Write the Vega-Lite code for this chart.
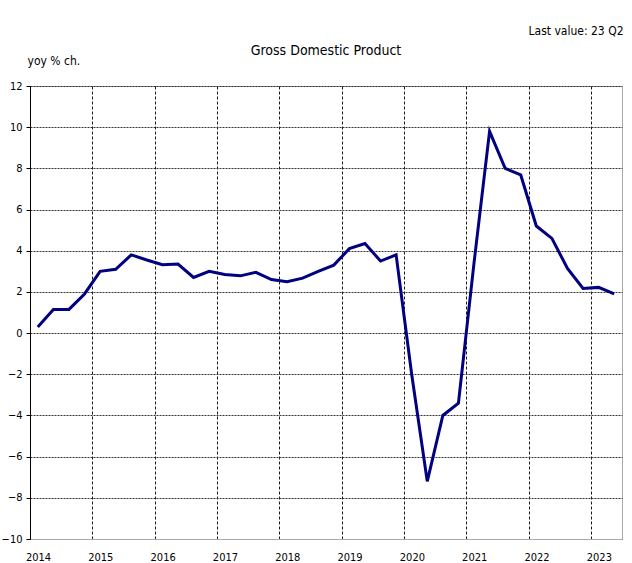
{
  "$schema": "https://vega.github.io/schema/vega-lite/v6.json",
  "width": 592,
  "height": 453,
  "autosize": {"type": "none"},
  "padding": {"left": 30, "top": 86, "right": 10, "bottom": 24},
  "background": "white",
  "config": {
    "font": "DejaVu Sans Condensed, DejaVu Sans, sans-serif",
    "view": {"stroke": "#aaaaaa", "strokeWidth": 1}
  },
  "title": {
    "text": "Gross Domestic Product",
    "anchor": "middle",
    "fontSize": 14,
    "fontWeight": "normal",
    "color": "#000000",
    "offset": 0,
    "dy": 34
  },
  "data": {
    "values": [
      {"t": 2014.125, "v": 0.3},
      {"t": 2014.375, "v": 1.15},
      {"t": 2014.625, "v": 1.15},
      {"t": 2014.875, "v": 1.9},
      {"t": 2015.125, "v": 3.0},
      {"t": 2015.375, "v": 3.1},
      {"t": 2015.625, "v": 3.8},
      {"t": 2015.875, "v": 3.55},
      {"t": 2016.125, "v": 3.32},
      {"t": 2016.375, "v": 3.35},
      {"t": 2016.625, "v": 2.7},
      {"t": 2016.875, "v": 3.0},
      {"t": 2017.125, "v": 2.85},
      {"t": 2017.375, "v": 2.78},
      {"t": 2017.625, "v": 2.95},
      {"t": 2017.875, "v": 2.6},
      {"t": 2018.125, "v": 2.5},
      {"t": 2018.375, "v": 2.67},
      {"t": 2018.625, "v": 3.0},
      {"t": 2018.875, "v": 3.3},
      {"t": 2019.125, "v": 4.1},
      {"t": 2019.375, "v": 4.35},
      {"t": 2019.625, "v": 3.5},
      {"t": 2019.875, "v": 3.8},
      {"t": 2020.125, "v": -2.0},
      {"t": 2020.375, "v": -7.2},
      {"t": 2020.625, "v": -4.0},
      {"t": 2020.875, "v": -3.4},
      {"t": 2021.125, "v": 3.4},
      {"t": 2021.375, "v": 9.8},
      {"t": 2021.625, "v": 8.0},
      {"t": 2021.875, "v": 7.68},
      {"t": 2022.125, "v": 5.2},
      {"t": 2022.375, "v": 4.6},
      {"t": 2022.625, "v": 3.14},
      {"t": 2022.875, "v": 2.17},
      {"t": 2023.125, "v": 2.22},
      {"t": 2023.375, "v": 1.9}
    ]
  },
  "mark": {"type": "line", "color": "#000080", "strokeWidth": 3, "clip": true},
  "encoding": {
    "x": {
      "field": "t",
      "type": "quantitative",
      "scale": {"domain": [2014, 2023.5], "nice": false, "zero": false},
      "axis": {
        "values": [2014, 2015, 2016, 2017, 2018, 2019, 2020, 2021, 2022, 2023],
        "format": "d",
        "title": "Last value: 23 Q2",
        "titleFontSize": 12,
        "titleFontWeight": "normal",
        "titleColor": "#000000",
        "titleAlign": "right",
        "titleBaseline": "middle",
        "titleAnchor": "end",
        "titleX": 593,
        "titleY": -509,
        "ticks": false,
        "domainColor": "#aaaaaa",
        "labelFontSize": 11,
        "labelColor": "#000000",
        "labelOffset": 8,
        "labelPadding": 12,
        "labelFlush": false,
        "grid": true,
        "gridColor": "#000000",
        "gridDash": [3, 2],
        "gridWidth": 1,
        "gridOpacity": 0.9
      }
    },
    "y": {
      "field": "v",
      "type": "quantitative",
      "scale": {"domain": [-10, 12], "nice": false, "zero": false},
      "axis": {
        "values": [-10, -8, -6, -4, -2, 0, 2, 4, 6, 8, 10, 12],
        "title": "yoy % ch.",
        "titleFontSize": 12,
        "titleFontWeight": "normal",
        "titleColor": "#000000",
        "titleAngle": 0,
        "titleAlign": "left",
        "titleBaseline": "middle",
        "titleX": -3,
        "titleY": -26,
        "domainColor": "#000000",
        "tickColor": "#000000",
        "tickSize": 4,
        "labelFontSize": 11,
        "labelColor": "#000000",
        "labelPadding": 4,
        "grid": true,
        "gridColor": "#333333",
        "gridDash": [2, 1],
        "gridWidth": 1
      }
    }
  }
}
